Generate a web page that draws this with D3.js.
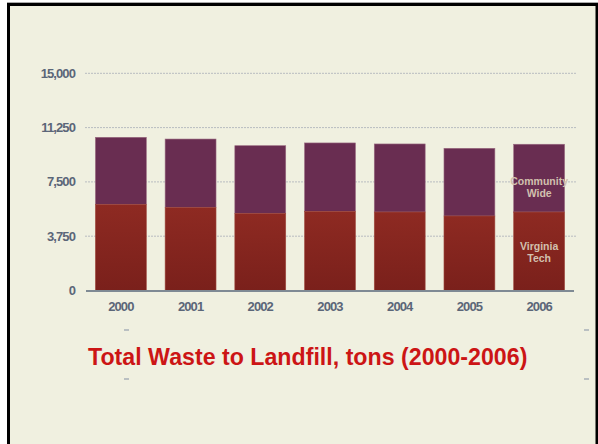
<!DOCTYPE html>
<html><head><meta charset="utf-8">
<script src="https://cdn.jsdelivr.net/npm/d3@7"></script>
<style>body{margin:0;background:#fff}svg{display:block}</style>
</head><body>
<script>
const years = ["2000","2001","2002","2003","2004","2005","2006"];
const yearLabels = ["2000","2001","2002","2003","2004","2005","2006"];
const virginiaTech = [5950, 5745, 5330, 5470, 5420, 5145, 5420];
const communityWide = [4630, 4715, 4670, 4720, 4700, 4675, 4680];
const yTicks = [0, 3750, 7500, 11250, 15000];
const title = "Total Waste to Landfill, tons (2000-2006)";

const W = 598, H = 444;
const svg = d3.select("body").append("svg").attr("width", W).attr("height", H);
const defs = svg.append("defs");
const gr = defs.append("linearGradient").attr("id","redg").attr("x1",0).attr("y1",0).attr("x2",0).attr("y2",1);
gr.append("stop").attr("offset","0%").attr("stop-color","#8e2a22");
gr.append("stop").attr("offset","100%").attr("stop-color","#7a201b");

svg.append("rect").attr("x",8.5).attr("y",4.5).attr("width",W).attr("height",H)
  .attr("fill","#f0f0e0").attr("stroke","#000").attr("stroke-width",3);
svg.append("line").attr("x1",7).attr("x2",W).attr("y1",2.5).attr("y2",2.5).attr("stroke","#aaa").attr("stroke-width",1);
svg.append("rect").attr("x",595.5).attr("y",4).attr("width",3).attr("height",H).attr("fill","#000");

const x = d3.scaleBand().domain(years).range([86, 574]).paddingInner(0.27).paddingOuter(0.135);
const y = d3.scaleLinear().domain([0, 15000]).range([290.5, 73.3]);

const font = "Liberation Sans, Arial, sans-serif";

// gridlines
svg.append("g").selectAll("line").data(yTicks.filter(d => d > 0)).join("line")
  .attr("x1", 85).attr("x2", 576).attr("y1", d => y(d)).attr("y2", d => y(d))
  .attr("stroke", "#b8bcc0").attr("stroke-width", 1).attr("stroke-dasharray", "2,1");

// y labels
svg.append("g").selectAll("text").data(yTicks).join("text")
  .attr("x", 75).attr("y", d => y(d)).attr("dy", "0.35em").attr("text-anchor", "end")
  .attr("font-family", font).attr("font-weight", "bold")
  .attr("font-size", 13).attr("fill", "#5b6678").attr("letter-spacing", -0.9)
  .text(d => d3.format(",")(d));

const data = years.map((yr, i) => ({yr, vt: virginiaTech[i], cw: communityWide[i]}));
const bars = svg.append("g");
bars.selectAll("rect.cw").data(data).join("rect").attr("class","cw")
  .attr("x", d => x(d.yr)).attr("width", x.bandwidth())
  .attr("y", d => y(d.vt + d.cw)).attr("height", d => y(d.vt) - y(d.vt + d.cw))
  .attr("fill", "#692d51").attr("stroke","#9a6a80").attr("stroke-width",0.6);
bars.selectAll("rect.vt").data(data).join("rect").attr("class","vt")
  .attr("x", d => x(d.yr)).attr("width", x.bandwidth())
  .attr("y", d => y(d.vt)).attr("height", d => y(0) - y(d.vt))
  .attr("fill", "url(#redg)").attr("stroke","#a04a40").attr("stroke-width",0.6);

// baseline
svg.append("line").attr("x1", 86).attr("x2", 574).attr("y1", y(0)+0.5).attr("y2", y(0)+0.5)
  .attr("stroke", "#7f8a94").attr("stroke-width", 2);

// x labels
svg.append("g").selectAll("text").data(years).join("text")
  .attr("x", d => x(d) + x.bandwidth()/2).attr("y", 306).attr("dy","0.35em").attr("text-anchor","middle")
  .attr("font-family", font).attr("font-weight", "bold")
  .attr("font-size", 13).attr("fill", "#5b6678").attr("letter-spacing", -0.9)
  .text((d, i) => yearLabels[i]);

// series labels on last bar
const last = years[years.length - 1];
const cx = x(last) + x.bandwidth()/2;
const lab = svg.append("g").attr("font-family", font).attr("font-weight","bold")
  .attr("font-size", 10.5).attr("fill","#d2c0ae").attr("text-anchor","middle");
lab.append("text").attr("x", cx).attr("y", 185).text("Community");
lab.append("text").attr("x", cx).attr("y", 197).text("Wide");
lab.append("text").attr("x", cx).attr("y", 250).text("Virginia");
lab.append("text").attr("x", cx).attr("y", 262).text("Tech");

// small dashes
[[124,330],[584,330],[124,379],[584,379]].forEach(([a,b]) => {
  svg.append("line").attr("x1",a).attr("x2",a+5).attr("y1",b).attr("y2",b).attr("stroke","#a8b0b8").attr("stroke-width",1.5);
});

svg.append("text").attr("x", 88).attr("y", 365)
  .attr("font-family", font).attr("font-weight","bold")
  .attr("font-size", 23.2).attr("fill","#cc1515").text(title);
</script>
</body></html>
